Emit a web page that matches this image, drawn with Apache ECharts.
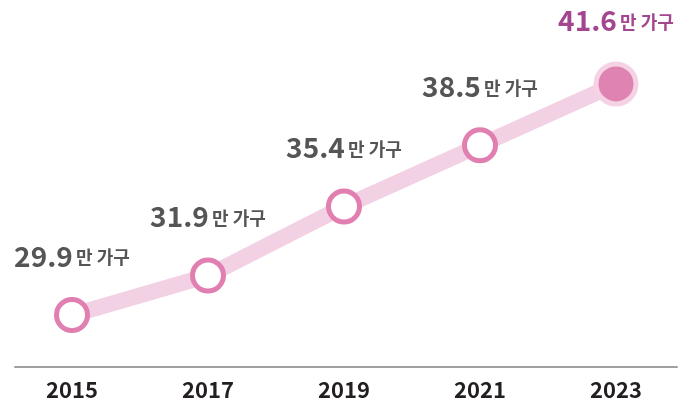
<!DOCTYPE html>
<html><head><meta charset="utf-8">
<script src="https://cdn.jsdelivr.net/npm/echarts@6/dist/echarts.min.js"></script>
<style>html,body{margin:0;padding:0;background:#fff}#c{width:692px;height:404px}</style>
</head><body><div id="c"></div>
<script>
var years = ['2015','2017','2019','2021','2023'];
var values = [29.9, 31.9, 35.4, 38.5, 41.6];
var unit = '만 가구';

var chart = echarts.init(document.getElementById('c'), null, {renderer:'canvas'});
var last = values.length - 1;
var data = values.map(function(v, i){
  var hl = i === last;
  return {
    value: v,
    symbolSize: hl ? 40 : 31,
    itemStyle: hl ? {color:'#de83b2', borderColor:'#f5d3e5', borderWidth:5}
                  : {color:'#ffffff', borderColor:'#e07fb0', borderWidth:5},
    label: {
      rich: {
        v: {fontSize:28, fontWeight:'bold', color: hl ? '#a3468f' : '#555555', fontFamily:'Noto Sans CJK KR', lineHeight:32},
        u: {fontSize:18, fontWeight:'bold', color: hl ? '#a3468f' : '#555555', fontFamily:'Noto Sans CJK KR', lineHeight:32, padding:[3,0,0,0]}
      }
    }
  };
});
chart.setOption({
  animation:false,
  grid:[
    {left:4, right:8, top:36.6, bottom:37},
    {left:15, right:15, top:36.6, bottom:37}
  ],
  xAxis:[
    {type:'category', data:years, gridIndex:0, boundaryGap:true,
     axisLine:{show:false}, axisTick:{show:false},
     axisLabel:{fontSize:22, fontWeight:'bold', color:'#231f20', fontFamily:'Noto Sans CJK KR', margin:12}},
    {type:'value', gridIndex:1, min:0, max:1, axisLine:{show:true, lineStyle:{color:'#a0a0a0', width:2}},
     axisTick:{show:false}, axisLabel:{show:false}, splitLine:{show:false}}
  ],
  yAxis:[
    {type:'value', gridIndex:0, min:27.27, max:44, show:false, splitLine:{show:false}},
    {type:'value', gridIndex:1, min:0, max:1, show:false, splitLine:{show:false}}
  ],
  series:[{
    type:'line', xAxisIndex:0, yAxisIndex:0, data:data, symbol:'circle',
    lineStyle:{color:'#f3d1e4', width:16},
    z:3,
    label:{show:true, position:'top', distance:25,
      formatter:function(p){return '{v|'+p.value.toFixed(1)+'} {u|'+unit+'}';}}
  }]
});
</script></body></html>
